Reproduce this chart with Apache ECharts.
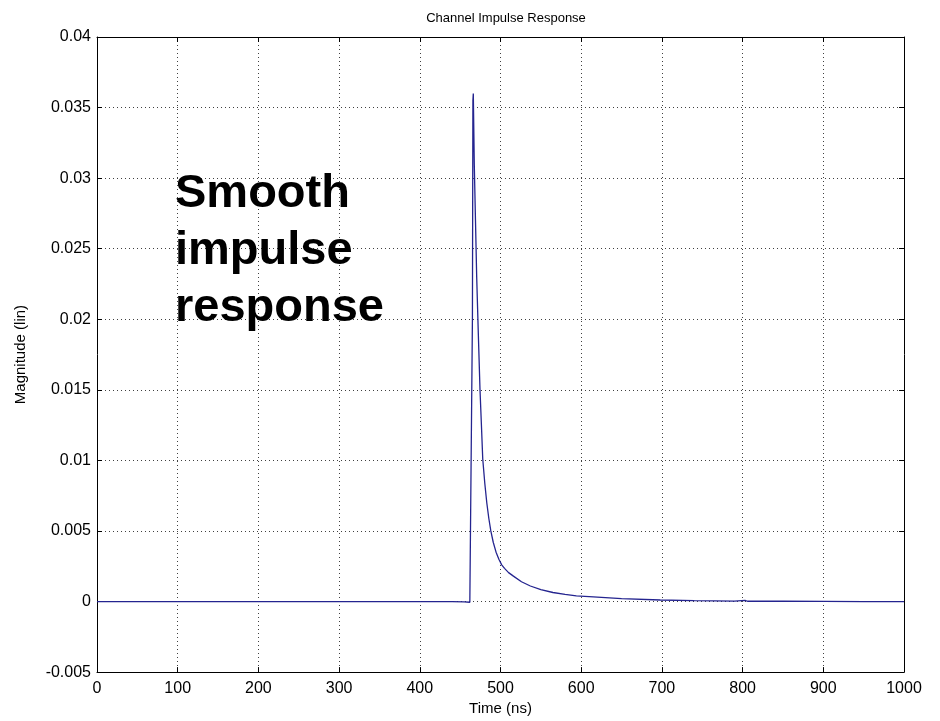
<!DOCTYPE html>
<html>
<head>
<meta charset="utf-8">
<script src="https://cdn.jsdelivr.net/npm/echarts@6/dist/echarts.min.js"></script>
<style>
html,body{margin:0;padding:0;background:#fff;}
#chart{width:940px;height:721px;}
</style>
</head>
<body>
<div id="chart"></div>
<script>
var titleText = 'Channel Impulse Response';
var xAxisName = 'Time (ns)';
var yAxisName = 'Magnitude (lin)';
var annotation = 'Smooth\nimpulse\nresponse';

var timeNs = [0, 100, 200, 300, 400, 440, 455, 462, 464.3, 465.2, 465.8, 466.3, 467.5, 469, 470.5, 472.5, 474.6, 476.5, 478, 480.5, 483, 485.5, 488, 491, 494.5, 498, 501.5, 505, 510, 516, 526, 537, 550, 565, 580, 594, 615, 650, 698, 740, 790, 803, 806, 810, 850, 900, 950, 1000];
var magnitude = [0, 0, 0, 0, 0, 0, -0.00003, -0.00005, 0, 0.02, 0.0355, 0.036, 0.031, 0.027, 0.023, 0.019, 0.0150, 0.0123, 0.0101, 0.0084, 0.0070, 0.0059, 0.0050, 0.0042, 0.0035, 0.0030, 0.0026, 0.00235, 0.00205, 0.0018, 0.0014, 0.0011, 0.00085, 0.00064, 0.0005, 0.0004, 0.00033, 0.0002, 0.00011, 0.00006, 0.00003, 0.00008, 0.00002, 0.00003, 0.00002, 0.00001, 0, 0];

var xMin = 0, xMax = 1000, xStep = 100;
var yMin = -0.005, yMax = 0.04, yStep = 0.005;

var seriesData = timeNs.map(function (t, i) { return [t, magnitude[i]]; });

var FONT = 'Liberation Sans, Arial, sans-serif';
var chart = echarts.init(document.getElementById('chart'), null, {renderer: 'canvas'});

function yFmt(v) { return String(+v.toFixed(4)); }
function xFmt(v) { return String(Math.round(v)); }

var gridLine = {show: true, lineStyle: {color: '#000', type: [1, 3], width: 1, opacity: 0.75}};
var axisLine = {show: true, onZero: false, lineStyle: {color: '#000', width: 1}};
var tick = {show: true, inside: true, length: 5, lineStyle: {color: '#000'}};

chart.setOption({
  animation: false,
  backgroundColor: '#fff',
  title: {
    text: titleText, left: 501, top: 7, textAlign: 'center',
    textStyle: {fontFamily: FONT, fontSize: 13, fontWeight: 'normal', color: '#000'}
  },
  grid: {left: 97, right: 36, top: 37, bottom: 48, show: false},
  xAxis: [{
    type: 'value', min: xMin, max: xMax, interval: xStep,
    name: xAxisName, nameLocation: 'middle', nameGap: 27,
    nameTextStyle: {fontFamily: FONT, fontSize: 15, color: '#000'},
    axisLine: axisLine, axisTick: tick, splitLine: gridLine,
    axisLabel: {fontFamily: FONT, fontSize: 16, color: '#000', margin: 8, formatter: xFmt}
  }, {
    type: 'value', position: 'top', min: xMin, max: xMax, interval: xStep,
    axisLine: axisLine, axisTick: tick, splitLine: {show: false}, axisLabel: {show: false}
  }],
  yAxis: [{
    type: 'value', min: yMin, max: yMax, interval: yStep,
    name: yAxisName, nameLocation: 'middle', nameGap: 69, nameRotate: 90,
    nameTextStyle: {fontFamily: FONT, fontSize: 15, color: '#000'},
    axisLine: axisLine, axisTick: tick, splitLine: gridLine,
    axisLabel: {fontFamily: FONT, fontSize: 16, color: '#000', margin: 6, formatter: yFmt}
  }, {
    type: 'value', position: 'right', min: yMin, max: yMax, interval: yStep,
    axisLine: axisLine, axisTick: tick, splitLine: {show: false}, axisLabel: {show: false}
  }],
  graphic: [{
    type: 'text', left: 175, top: 166, z: 100,
    style: {text: annotation, font: 'bold 47px ' + FONT, fill: '#000', lineHeight: 57}
  }],
  series: [{
    type: 'line', xAxisIndex: 0, yAxisIndex: 0,
    data: seriesData, showSymbol: false, symbol: 'none',
    lineStyle: {color: '#24248f', width: 1.3}, z: 5
  }]
});
</script>
</body>
</html>
